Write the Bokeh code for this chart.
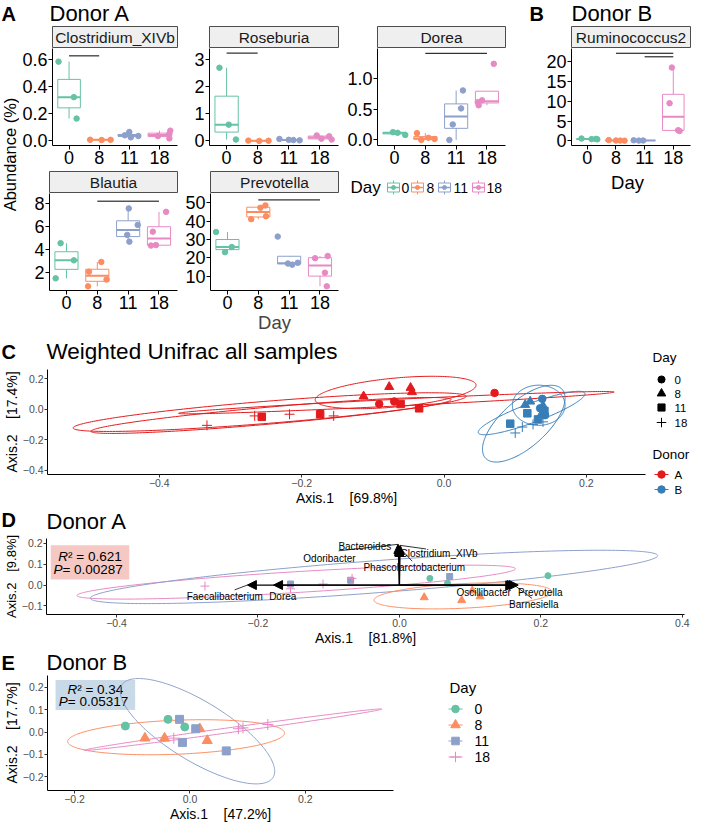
import numpy as np
from bokeh.plotting import figure
from bokeh.layouts import row, column
from bokeh.models import (Range1d, FixedTicker, CustomJSTickFormatter, Arrow,
                          NormalHead, ColumnDataSource)
from bokeh.core.properties import value
from bokeh.embed import file_html
from bokeh.resources import INLINE

FONT = "Liberation Sans"

# ------------------------------------------------------------------ data
days = ["0", "8", "11", "18"]
day_colors = ["#66C2A5", "#FC8D62", "#8DA0CB", "#E78AC3"]
day_markers = ["circle", "triangle", "square", "cross"]
donors = ["A", "B"]
donor_colors = ["#E41A1C", "#377EB8"]

# Panels A / B : relative abundance (%) per sampling day, with jitter offsets
clostridium = [[0.585, 0.32, 0.16], [0.002, 0.0, 0.001], [0.06, 0.035, 0.03, 0.02], [0.07, 0.045, 0.03, 0.012]]
clostridium_jitter = [[-0.35, 0.16, 0.25], [-0.3, 0.08, 0.38], [0.0, -0.15, 0.3, 0.05], [0.36, 0.33, -0.05, 0.33]]
roseburia = [[2.7, 0.6, 0.05], [0.01, 0.0, 0.005], [0.07, 0.04, 0.03, 0.02], [0.2, 0.17, 0.08, 0.05]]
roseburia_jitter = [[-0.23, 0.07, 0.3], [-0.3, 0.05, 0.35], [-0.3, 0.0, 0.15, 0.35], [-0.1, 0.3, 0.05, 0.38]]
dorea = [[0.125, 0.115, 0.08], [0.11, 0.035, 0.015, 0.0], [0.0, 0.25, 0.51, 0.80], [0.56, 0.61, 0.64, 1.23]]
dorea_jitter = [[-0.05, 0.1, 0.35], [-0.27, 0.1, 0.3, -0.13], [-0.22, -0.11, 0.16, 0.22], [-0.27, -0.3, -0.16, 0.22]]
ruminococcus2 = [[0.6, 0.5, 0.4, 0.45], [0.2, 0.1, 0.08, 0.05], [0.15, 0.1, 0.08], [18.5, 9.5, 2.7, 2.5]]
ruminococcus2_jitter = [[-0.2, 0.3, 0.35, 0.15], [-0.25, 0.0, 0.15, 0.3], [-0.38, -0.05, -0.2], [-0.05, -0.13, 0.17, 0.22]]
blautia = [[4.57, 3.07, 1.5], [0.8, 1.39, 2.08, 2.93], [4.7, 5.29, 6.16, 7.6], [4.36, 4.40, 5.57, 7.3]]
blautia_jitter = [[-0.19, 0.24, -0.35], [-0.3, 0.3, -0.27, 0.13], [0.04, -0.03, 0.31, 0.02], [-0.26, -0.1, -0.2, 0.23]]
prevotella = [[34.0, 23.0, 25.8], [41.0, 42.6, 47.2, 48.5], [31.5, 17.2, 16.8, 16.2], [19.7, 20.9, 11.8, 4.4]]
prevotella_jitter = [[-0.37, -0.08, 0.14], [-0.23, 0.25, 0.07, 0.23], [-0.37, 0.28, -0.04, 0.1], [-0.16, 0.25, 0.16, 0.22]]

# significance bars: (from day index, to day index, height)
clostridium_sig = [(0, 1, 0.628)]
roseburia_sig = [(0, 1, 3.24)]
dorea_sig = [(1, 3, 1.40)]
ruminococcus2_sig = [(1, 3, 22.1), (2, 3, 21.2)]
blautia_sig = [(1, 3, 8.23)]
prevotella_sig = [(1, 3, 51.5)]

# Panel C : weighted UniFrac PCoA, all samples  [donor][day] -> coordinates
c_x = [[[-0.091, -0.070, 0.071], [-0.113, -0.077, -0.047, -0.045],
        [-0.256, -0.174, -0.061, -0.035], [-0.333, -0.266, -0.217, -0.155]],
       [[0.138, 0.135, 0.142], [0.114, 0.121, 0.139, 0.136],
        [0.117, 0.093, 0.141, 0.132], [0.100, 0.125, 0.110, 0.139]]]
c_y = [[[0.035, 0.052, 0.108], [0.086, 0.148, 0.142, 0.114],
        [-0.049, -0.032, 0.035, 0.007], [-0.105, -0.043, -0.032, -0.043]],
       [[0.069, 0.007, -0.038], [0.030, 0.052, 0.024, -0.038],
        [-0.026, -0.094, -0.010, -0.066], [-0.155, -0.099, -0.116, -0.082]]]
# ellipses: centre x, centre y, semi-diameter to rightmost point (dx, dy), vertical half-chord
c_ellipse_donor = [0, 0, 0, 0, 1, 1, 1]
c_ellipse_params = [(-0.067, 0.044, 0.306, 0.070, 0.022),
                    (-0.068, 0.111, 0.113, 0.048, 0.095),
                    (-0.243, -0.040, 0.253, 0.104, 0.056),
                    (-0.245, -0.018, 0.276, 0.104, 0.073),
                    (0.133, 0.027, 0.037, 0.0, 0.132),
                    (0.123, -0.024, 0.075, 0.126, 0.067),
                    (0.112, -0.094, 0.058, 0.168, 0.188)]

# Panel D : donor A
d_x = [[0.043, 0.068, 0.21], [0.035, 0.088, 0.103, 0.114], [-0.154, -0.069, 0.071], [-0.275, -0.154, -0.108, -0.067]]
d_y = [[0.032, 0.009, 0.045], [-0.059, -0.073, -0.027, -0.055], [0.005, 0.023, 0.041], [-0.005, -0.018, 0.005, 0.032]]
d_ellipse_day = [3, 2, 1]
d_ellipse_params = [(-0.146, 0.014, 0.310, 0.064, 0.05),
                    (-0.036, 0.039, 0.401, 0.102, 0.077),
                    (0.090, -0.052, 0.126, 0.020, 0.059)]
d_taxa = ["Bacteroides", "Clostridium_XIVb", "Odoribacter", "Phascolarctobacterium",
          "Faecalibacterium", "Dorea", "Oscillibacter", "Prevotella", "Barnesiella"]
d_arrow_x = [-0.002, 0.001, -0.001, 0.0, -0.215, -0.178, 0.165, 0.168, 0.163]
d_arrow_y = [0.195, 0.19, 0.185, 0.18, 0.0, 0.0, 0.0, 0.0, -0.002]
d_label_x = [-0.049, 0.056, -0.099, 0.021, -0.247, -0.165, 0.119, 0.199, 0.190]
d_label_y = [0.186, 0.150, 0.127, 0.086, -0.055, -0.055, -0.036, -0.036, -0.095]
d_leader_x = [-0.086, 0.0375, np.nan, 0.018, -0.233, np.nan, np.nan, np.nan, 0.1875]
d_leader_y = [0.164, 0.173, np.nan, 0.114, -0.023, np.nan, np.nan, np.nan, -0.064]
d_r2, d_p = "0.621", "0.00287"

# Panel E : donor B
e_x = [[-0.112, -0.038, -0.009], [-0.078, -0.044, 0.017, 0.030], [-0.018, 0.010, -0.013, 0.063], [-0.028, 0.084, 0.092, 0.135]]
e_y = [[0.027, 0.057, 0.023], [-0.027, -0.027, 0.015, -0.038], [0.057, 0.015, -0.046, -0.084], [-0.027, 0.015, 0.019, 0.034]]
e_ellipse_day = [2, 1, 3]
e_ellipse_params = [(0.013, 0.004, 0.134, -0.179, 0.153),
                    (-0.024, -0.023, 0.188, 0.019, 0.076),
                    (0.075, 0.011, 0.258, 0.092, 0.011)]
e_r2, e_p = "0.34", "0.05317"

# ------------------------------------------------------------------ helpers
def base_fig(w, h, xr, yr, left=0, right=0, top=0, bottom=0, axes=True):
    kw = dict(width=w, height=h, x_range=Range1d(*xr), y_range=Range1d(*yr),
              toolbar_location=None, output_backend="svg",
              min_border_left=left, min_border_right=right,
              min_border_top=top, min_border_bottom=bottom)
    if not axes:
        kw.update(x_axis_location=None, y_axis_location=None)
    p = figure(**kw)
    p.grid.visible = False
    p.outline_line_color = None
    return p


def text_fig(w, h):
    return base_fig(w, h, (0, w), (h, 0), axes=False)


def txt(f, x, y, s, size, align="left", style="normal", color="black", angle=0.0,
        baseline="middle", xoff=0):
    f.text(x=[x], y=[y], text=[s], text_font=value(FONT), text_font_size=f"{size}px",
           text_font_style=value(style), text_align=value(align),
           text_baseline=value(baseline), text_color=color, angle=angle, x_offset=xoff)


def num_formatter(digits):
    return CustomJSTickFormatter(args=dict(d=digits),
                                 code="return tick.toFixed(d).replace('-', '\u2212');")


def box_stats(v):
    v = np.asarray(v, float)
    q1, med, q3 = np.percentile(v, [25, 50, 75])
    iqr = q3 - q1
    lo = v[v >= q1 - 1.5 * iqr].min()
    hi = v[v <= q3 + 1.5 * iqr].max()
    return q1, med, q3, lo, hi


def ellipse_xy(cx, cy, ax, ay, b, n=240):
    t = np.linspace(0, 2 * np.pi, n)
    return cx + ax * np.cos(t), cy + ay * np.cos(t) + b * np.sin(t)


FRAME_H = 97
B1, B2 = 26, 47


def facet(name, values, jitter, sig, yr, yticks, ydig, w, left, right, bottom, xlabel=None):
    strip = base_fig(w, 22, (0, 1), (0, 1), left=left, right=right, axes=False)
    strip.background_fill_color = "#EFEFEF"
    strip.outline_line_color = "#4D4D4D"
    txt(strip, 0.5, 0.5, name, 15.5, align="center", color="#1A1A1A")

    p = base_fig(w, FRAME_H + bottom, (0.45, 4.6), yr, left=left, right=right, top=0, bottom=bottom)
    for ax in (p.xaxis[0], p.yaxis[0]):
        ax.axis_line_color = "black"
        ax.major_tick_line_color = "black"
        ax.major_tick_out = 4
        ax.major_tick_in = 0
        ax.minor_tick_line_color = None
        ax.major_label_text_font = FONT
        ax.major_label_text_font_size = "18px"
        ax.major_label_text_color = "black"
        ax.major_label_standoff = 1
        ax.axis_label_text_font = FONT
        ax.axis_label_text_font_size = "18.5px"
        ax.axis_label_text_font_style = "normal"
        ax.axis_label_standoff = 0
    p.xaxis.ticker = FixedTicker(ticks=[1, 2, 3, 4])
    p.xaxis.formatter = CustomJSTickFormatter(args=dict(labels=days),
                                              code="return labels[Math.round(tick) - 1];")
    p.yaxis.ticker = FixedTicker(ticks=yticks)
    p.yaxis.formatter = num_formatter(ydig)
    if xlabel:
        p.xaxis.axis_label = xlabel

    pos = np.arange(1, len(days) + 1, dtype=float)
    st = np.array([box_stats(v) for v in values])
    src = ColumnDataSource(dict(x=pos, left=pos - 0.375, right=pos + 0.375,
                                q1=st[:, 0], med=st[:, 1], q3=st[:, 2], lo=st[:, 3], hi=st[:, 4],
                                color=day_colors))
    p.segment(x0="x", x1="x", y0="q3", y1="hi", line_color="color", line_width=1, source=src)
    p.segment(x0="x", x1="x", y0="lo", y1="q1", line_color="color", line_width=1, source=src)
    p.quad(left="left", right="right", bottom="q1", top="q3", fill_color="white",
           line_color="color", line_width=1, source=src)
    p.segment(x0="left", x1="right", y0="med", y1="med", line_color="color", line_width=2, source=src)

    px, py, pc = [], [], []
    for i, (v, j) in enumerate(zip(values, jitter)):
        for a, b in zip(v, j):
            px.append(pos[i] + b)
            py.append(a)
            pc.append(day_colors[i])
    p.scatter(px, py, size=5.5, fill_color=pc, line_color=pc)
    for a, b, h in sig:
        p.segment(x0=[pos[a]], x1=[pos[b]], y0=[h], y1=[h], line_color="black", line_width=1)
    return column(strip, p)


def ord_fig(w, h, xr, yr, xticks, yticks, xlabel, ylabel, left, right, top, bottom, yfs="14px"):
    p = base_fig(w, h, xr, yr, left=left, right=right, top=top, bottom=bottom)
    for ax in (p.xaxis[0], p.yaxis[0]):
        ax.axis_line_color = "black"
        ax.major_tick_line_color = "#333333"
        ax.major_tick_out = 3
        ax.major_tick_in = 0
        ax.minor_tick_line_color = None
        ax.major_label_text_font = FONT
        ax.major_label_text_font_size = "10.5px"
        ax.major_label_text_color = "#4D4D4D"
        ax.major_label_standoff = 1
        ax.axis_label_text_font = FONT
        ax.axis_label_text_font_size = "14px"
        ax.axis_label_text_font_style = "normal"
        ax.axis_label_text_color = "black"
        ax.axis_label_standoff = 0
    p.yaxis.axis_label_text_font_size = yfs
    p.xaxis.ticker = FixedTicker(ticks=xticks)
    p.yaxis.ticker = FixedTicker(ticks=yticks)
    p.xaxis.formatter = num_formatter(1)
    p.yaxis.formatter = num_formatter(1)
    p.xaxis.axis_label = xlabel
    p.yaxis.axis_label = ylabel
    return p


def draw_day_points(p, xs, ys, colors, sizes):
    for d in range(len(days)):
        p.scatter(xs[d], ys[d], marker=day_markers[d], size=sizes[d],
                  fill_color=colors[d], line_color=colors[d], line_width=1)


CW = {"R": 0.722, "P": 0.667, "\u00b2": 0.333, " ": 0.278, "=": 0.584, ".": 0.278}


def text_w(s, fs):
    return sum(CW.get(ch, 0.556) for ch in s) * fs


def stat_box(p, x0, x1, y0, y1, fill, r2, pv, fs=13.5):
    p.quad(left=[x0], right=[x1], bottom=[y0], top=[y1], fill_color=fill, line_color=None)
    cx = (x0 + x1) / 2
    lines = [("R", "\u00b2 = " + r2), ("P", " = " + pv)]
    ys = [y0 + (y1 - y0) * 0.68, y0 + (y1 - y0) * 0.28]
    for (sym, rest), yy in zip(lines, ys):
        total = text_w(sym, fs) + text_w(rest, fs)
        off = -total / 2 + text_w(sym, fs)
        p.text(x=[cx], y=[yy], text=[sym], text_font=value(FONT), text_font_size=f"{fs}px",
               text_font_style=value("italic"), text_align=value("right"),
               text_baseline=value("middle"), x_offset=off)
        p.text(x=[cx], y=[yy], text=[rest], text_font=value(FONT), text_font_size=f"{fs}px",
               text_align=value("left"), text_baseline=value("middle"), x_offset=off)


# ------------------------------------------------------------------ panel A / B
header1 = text_fig(693, 26)
txt(header1, 1, 13, "A", 20, style="bold")
txt(header1, 49, 13, "Donor A", 22)
txt(header1, 529, 13, "B", 20, style="bold")
txt(header1, 571, 13, "Donor B", 22)

leftcol = text_fig(19, 22 + FRAME_H + B1 + 22 + FRAME_H + B2)
txt(leftcol, 9.5, 22 + FRAME_H + 9, "Abundance (%)", 16.5, align="center", angle=np.pi / 2)

f1 = facet("Clostridium_XIVb", clostridium, clostridium_jitter, clostridium_sig,
           (-0.041, 0.683), [0, 0.2, 0.4, 0.6], 1, 163, 30, 5, B1)
f2 = facet("Roseburia", roseburia, roseburia_jitter, roseburia_sig,
           (-0.17, 3.41), [0, 1, 2, 3], 0, 161, 27, 5, B1)
f3 = facet("Dorea", dorea, dorea_jitter, dorea_sig,
           (-0.09, 1.478), [0, 0.5, 1.0], 1, 167, 34, 5, B1)
f4 = facet("Ruminococcus2", ruminococcus2, ruminococcus2_jitter, ruminococcus2_sig,
           (-1.16, 23.3), [0, 5, 10, 15, 20], 0, 183, 61, 3, B1)
f5 = facet("Blautia", blautia, blautia_jitter, blautia_sig,
           (0.44, 8.9), [2, 4, 6, 8], 0, 163, 30, 5, B2)
f6 = facet("Prevotella", prevotella, prevotella_jitter, prevotella_sig,
           (2.1, 55.0), [10, 20, 30, 40, 50], 0, 161, 27, 5, B2, xlabel="Day")

leg2 = text_fig(350, 22 + FRAME_H + B2)
txt(leg2, 284, 10.5, "Day", 18.5, align="center")
txt(leg2, 7, 16, "Day", 17)
key_x = [50, 74, 101, 135]
lab_x = [58, 83, 110, 143]
for i in range(len(days)):
    c = day_colors[i]
    kx, ky = key_x[i], 16
    leg2.segment(x0=[kx], x1=[kx], y0=[ky - 7], y1=[ky + 7], line_color=c)
    leg2.quad(left=[kx - 6], right=[kx + 6], top=[ky - 4.5], bottom=[ky + 4.5],
              fill_color="white", line_color=c)
    leg2.segment(x0=[kx - 6], x1=[kx + 6], y0=[ky], y1=[ky], line_color=c, line_width=1.5)
    leg2.scatter([kx], [ky], size=4, fill_color=c, line_color=c)
    txt(leg2, lab_x[i], ky, days[i], 14)

block_ab = column(header1,
                  row(leftcol, column(row(f1, f2, f3, f4), row(f5, f6, column(leg2)))))

# ------------------------------------------------------------------ panel C
NB = "\u00a0" * 4
C_HEAD, C_TOP, C_FRAME, C_BOT = 28, 4, 106, 33
c_mid = C_TOP + C_FRAME / 2          # frame centre inside the plot row

c_head = text_fig(693, C_HEAD)
txt(c_head, 1, 14, "C", 20, style="bold")
txt(c_head, 46, 14, "Weighted Unifrac all samples", 22.5)
txt(c_head, 652, C_HEAD + c_mid - 65, "Day", 13.5)

c_plot = ord_fig(648, C_TOP + C_FRAME + C_BOT, (-0.557, 0.283), (-0.428, 0.262),
                 [-0.4, -0.2, 0.0, 0.2], [-0.4, -0.2, 0.0, 0.2],
                 "Axis.1" + NB + "[69.8%]", "Axis.2" + NB + "[17.4%]",
                 44, 3, C_TOP, C_BOT)
for k, prm in enumerate(c_ellipse_params):
    ex, ey = ellipse_xy(*prm)
    c_plot.line(ex, ey, line_color=donor_colors[c_ellipse_donor[k]], line_width=1)
c_sizes = [7.5, 9, 7.5, 10]
for dn in range(len(donors)):
    draw_day_points(c_plot, c_x[dn], c_y[dn], [donor_colors[dn]] * 4, c_sizes)

c_leg = text_fig(45, C_TOP + C_FRAME + C_BOT)
for i, dy in enumerate([-43, -29, -15, 0]):
    c_leg.scatter([13], [c_mid + dy], marker=day_markers[i], size=c_sizes[i] * 0.95,
                  fill_color="black", line_color="black")
    txt(c_leg, 26, c_mid + dy, days[i], 11.5)
txt(c_leg, 4, c_mid + 32, "Donor", 13.5)
for i, dy in enumerate([52, 67]):
    c_leg.segment(x0=[6], x1=[20], y0=[c_mid + dy], y1=[c_mid + dy], line_color=donor_colors[i])
    c_leg.scatter([13], [c_mid + dy], size=7.5, fill_color=donor_colors[i], line_color=donor_colors[i])
    txt(c_leg, 26, c_mid + dy, donors[i], 11.5)

block_c = column(c_head, row(c_plot, column(c_leg)))

# ------------------------------------------------------------------ panel D
D_HEAD, D_TOP, D_FRAME, D_BOT = 26, 4, 77, 33
d_head = text_fig(693, D_HEAD)
txt(d_head, 1, 11, "D", 20, style="bold")
txt(d_head, 46, 13, "Donor A", 22)

d_plot = ord_fig(693, D_TOP + D_FRAME + D_BOT, (-0.499, 0.403), (-0.141, 0.223),
                 [-0.4, -0.2, 0.0, 0.2, 0.4], [-0.1, 0.0, 0.1, 0.2],
                 "Axis.1" + NB + "[81.8%]", "Axis.2" + "\u00a0" * 3 + "[9.8%]",
                 44, 9, D_TOP, D_BOT, yfs="13px")
stat_box(d_plot, -0.493, -0.382, 0.027, 0.191, "#F5C8C4", d_r2, d_p)
for k, prm in enumerate(d_ellipse_params):
    ex, ey = ellipse_xy(*prm)
    d_plot.line(ex, ey, line_color=day_colors[d_ellipse_day[k]], line_width=1)
draw_day_points(d_plot, d_x, d_y, day_colors, [6, 8, 6, 9])
arrow_src = ColumnDataSource(dict(x0=[0.0] * len(d_taxa), y0=[0.0] * len(d_taxa),
                                  x1=d_arrow_x, y1=d_arrow_y))
d_plot.add_layout(Arrow(end=NormalHead(size=9, fill_color="black", line_color="black"),
                        x_start="x0", y_start="y0", x_end="x1", y_end="y1",
                        source=arrow_src, line_color="black", line_width=1.2))
d_plot.segment(x0=d_leader_x, y0=d_leader_y, x1=d_arrow_x, y1=d_arrow_y,
               line_color="black", line_width=0.8)
d_plot.text(x=d_label_x, y=d_label_y, text=d_taxa, text_font=value(FONT),
            text_font_size="10px", text_align=value("center"), text_baseline=value("middle"),
            text_color="black")

block_d = column(d_head, row(d_plot))

# ------------------------------------------------------------------ panel E
E_HEAD, E_FRAME, E_BOT = 27, 116, 33
e_mid = E_FRAME / 2
e_head = text_fig(693, E_HEAD)
txt(e_head, 1, 14, "E", 20, style="bold")
txt(e_head, 46, 14, "Donor B", 22)

e_plot = ord_fig(420, E_FRAME + E_BOT, (-0.247, 0.353), (-0.261, 0.253), [-0.2, 0.0, 0.2],
                 [-0.2, -0.1, 0.0, 0.1, 0.2], "Axis.1" + NB + "[47.2%]", "Axis.2" + NB + "[17.7%]",
                 45, 27, 0, E_BOT)
stat_box(e_plot, -0.233, -0.095, 0.099, 0.233, "#C8D9E8", e_r2, e_p)
for k, prm in enumerate(e_ellipse_params):
    ex, ey = ellipse_xy(*prm)
    e_plot.line(ex, ey, line_color=day_colors[e_ellipse_day[k]], line_width=1)
e_sizes = [8, 10, 8, 11]
draw_day_points(e_plot, e_x, e_y, day_colors, e_sizes)

e_leg = text_fig(273, E_FRAME + E_BOT)
txt(e_leg, 29, e_mid - 46.5, "Day", 15)
for i, dy in enumerate([-24.5, -8.5, 7.5, 23.5]):
    c = day_colors[i]
    e_leg.segment(x0=[28], x1=[42], y0=[e_mid + dy], y1=[e_mid + dy], line_color=c)
    e_leg.scatter([35], [e_mid + dy], marker=day_markers[i], size=e_sizes[i] * 0.95,
                  fill_color=c, line_color=c)
    txt(e_leg, 54, e_mid + dy, days[i], 14)

block_e = column(e_head, row(e_plot, column(e_leg)))

layout = column(block_ab, block_c, block_d, block_e)

open("out.html", "w").write(file_html(layout, INLINE, title="Donor microbiome"))
